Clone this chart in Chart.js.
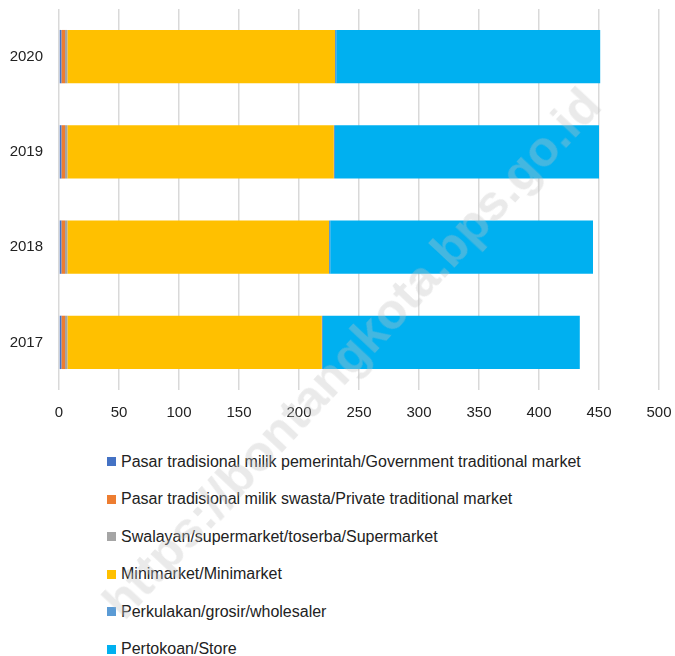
<!DOCTYPE html>
<html>
<head>
<meta charset="utf-8">
<script src="https://cdn.jsdelivr.net/npm/chart.js@4.4.1/dist/chart.umd.min.js"></script>
<style>
  body { margin: 0; background: #fff; width: 675px; height: 656px; overflow: hidden; position: relative; }
  #wrap { position: absolute; left: 0; top: 0; width: 675px; height: 430px; }
  #legend { position: absolute; left: 107px; top: 443px; font-family: "Liberation Sans Narrow", "Liberation Sans", Arial, sans-serif; font-size: 16px; color: #222; }
  .item { height: 37.5px; display: flex; align-items: center; white-space: nowrap; }
  .box { width: 9px; height: 9px; margin-right: 5px; flex: none; }
  #wm { position: absolute; left: 112px; top: 585px; font-family: "Liberation Sans", Arial, sans-serif; font-weight: bold; font-size: 50px; line-height: 50px; color: rgba(195,195,195,0.35); transform: rotate(-47deg); transform-origin: left center; white-space: nowrap; pointer-events: none; }
</style>
</head>
<body>
<div id="wrap"><canvas id="chart"></canvas></div>
<div id="legend"></div>
<div id="wm">https://bontangkota.bps.go.id</div>
<script>
// Tahun (dari atas ke bawah)
const years = ['2020', '2019', '2018', '2017'];

// Nilai tiap jenis sarana perdagangan
const pemerintah = [2, 2, 2, 2];
const swasta = [3, 3, 3, 3];
const swalayan = [2, 2, 2, 2];
const minimarket = [223, 222, 218, 212];
const perkulakan = [1, 1, 1, 1];
const pertokoan = [220, 220, 219, 214];

const seriesNames = [
    'Pasar tradisional milik pemerintah/Government traditional market',
    'Pasar tradisional milik swasta/Private traditional market',
    'Swalayan/supermarket/toserba/Supermarket',
    'Minimarket/Minimarket',
    'Perkulakan/grosir/wholesaler',
    'Pertokoan/Store'
];
const seriesColors = ['#4472C4', '#ED7D31', '#A5A5A5', '#FFC000', '#5B9BD5', '#00B0F0'];
const seriesData = [pemerintah, swasta, swalayan, minimarket, perkulakan, pertokoan];

const tickFont = { family: '"Liberation Sans", Arial, sans-serif', size: 15 };

const chart = new Chart(document.getElementById('chart'), {
    type: 'bar',
    data: {
        labels: years,
        datasets: seriesNames.map((name, i) => ({
            label: name,
            data: seriesData[i],
            backgroundColor: seriesColors[i],
            borderWidth: 0,
            barPercentage: 0.56,
            categoryPercentage: 1
        }))
    },
    options: {
        indexAxis: 'y',
        responsive: true,
        maintainAspectRatio: false,
        animation: false,
        layout: { padding: { top: 9, right: 16, left: 0, bottom: 0 } },
        plugins: { legend: { display: false }, tooltip: { enabled: false } },
        scales: {
            x: {
                stacked: true,
                min: 0,
                max: 500,
                ticks: { stepSize: 50, color: '#222', font: tickFont, padding: 14 },
                grid: { color: '#d9d9d9', lineWidth: 1.5, drawTicks: false },
                border: { display: false },
                afterFit: s => { s.height = 40; s.paddingLeft = 0; s.paddingRight = 0; }
            },
            y: {
                stacked: true,
                ticks: { color: '#222', font: tickFont, padding: 16 },
                grid: { display: false, drawTicks: false },
                border: { display: false },
                afterFit: s => { s.width = 59; s.paddingTop = 0; s.paddingBottom = 0; }
            }
        }
    }
});

// Legenda vertikal
const legend = document.getElementById('legend');
chart.data.datasets.forEach(ds => {
    const item = document.createElement('div');
    item.className = 'item';
    item.innerHTML = `<span class="box" style="background:${ds.backgroundColor}"></span><span>${ds.label}</span>`;
    legend.appendChild(item);
});
</script>
</body>
</html>
